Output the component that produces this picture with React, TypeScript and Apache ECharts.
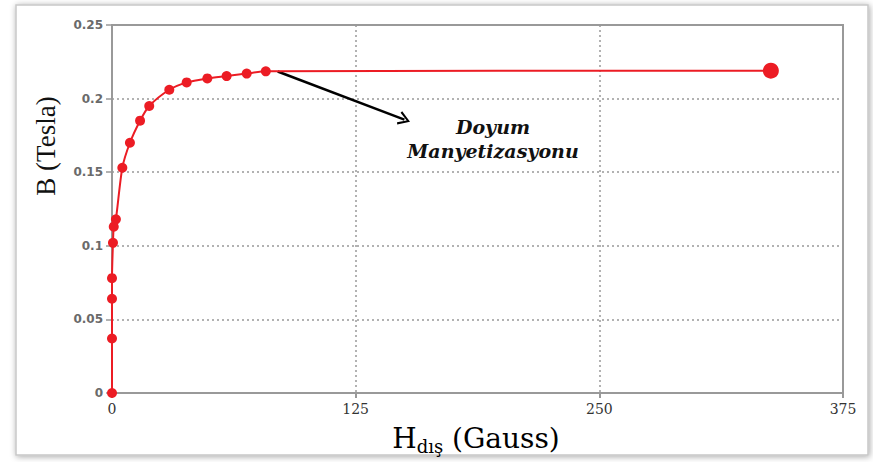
import React, { useEffect, useRef } from "react";
import * as echarts from "echarts";

const hValues = [0, 0, 0, 0, 0.5, 0.9, 2, 5.3, 9.2, 14.4, 19.1, 29.4, 38.3, 48.9, 58.8, 69.1, 78.9, 338];
const bValues = [0, 0.037, 0.064, 0.078, 0.102, 0.113, 0.118, 0.153, 0.17, 0.185, 0.195, 0.206, 0.211, 0.2137, 0.2153, 0.217, 0.2185, 0.219];
const xTicks = { min: 0, max: 375, interval: 125 };
const yTicks = { min: 0, max: 0.25, interval: 0.05 };
const arrowStart = [85, 0.2184];
const arrowEnd = [150, 0.1857];
const annotation = ["Doyum", "Manyetizasyonu"];

export default function App() {
  const ref = useRef<HTMLDivElement>(null);
  useEffect(() => {
    if (!ref.current) return;
    const chart = echarts.init(ref.current, null, { renderer: "svg" });
    const red = "#ec1c24";
    const data = hValues.map((h, i) => ({
      value: [h, bValues[i]],
      symbolSize: i === hValues.length - 1 ? 16 : 10,
    }));
    chart.setOption({
      animation: false,
      backgroundColor: "#ffffff",
      graphic: [
        {
          type: "rect",
          shape: { x: 16, y: 5, width: 852, height: 450 },
          style: {
            fill: "#ffffff",
            stroke: "#c8c8c8",
            lineWidth: 1.5,
            shadowBlur: 6,
            shadowColor: "rgba(0,0,0,0.35)",
            shadowOffsetX: 1,
            shadowOffsetY: 1,
          },
          z: -10,
          silent: true,
        },
        {
          type: "text",
          x: 46,
          y: 146,
          rotation: Math.PI / 2,
          style: {
            text: "B (Tesla)",
            font: "27px 'Liberation Serif'",
            fill: "#111",
            align: "center",
            verticalAlign: "middle",
          },
        },
        {
          type: "text",
          x: 476,
          y: 438,
          style: {
            text: "{h|H}{s|dış}{n| (Gauss)}",
            align: "center",
            verticalAlign: "middle",
            rich: {
              h: { fontFamily: "DejaVu Serif", fontSize: 28, color: "#111" },
              s: { fontFamily: "DejaVu Serif", fontSize: 18, color: "#111", padding: [16, 0, 0, 0] },
              n: { fontFamily: "DejaVu Serif", fontSize: 28, color: "#111" },
            },
          },
        },
        {
          type: "text",
          x: 493,
          y: 139,
          style: {
            text: annotation.join("\n"),
            font: "italic bold 19px 'DejaVu Serif'",
            fill: "#111",
            align: "center",
            verticalAlign: "middle",
            lineHeight: 24,
          },
        },
      ],
      grid: {
        left: 112,
        right: 30,
        top: 25,
        bottom: 69,
        show: true,
        borderColor: "#999",
        borderWidth: 2,
      },
      xAxis: {
        type: "value",
        min: xTicks.min,
        max: xTicks.max,
        interval: xTicks.interval,
        axisLine: { show: true, lineStyle: { color: "#999", width: 2 } },
        axisTick: { show: true, length: 5, lineStyle: { color: "#999", width: 2 } },
        axisLabel: {
          fontFamily: "DejaVu Serif",
          fontSize: 14,
          color: "#333",
          margin: 9,
        },
        splitLine: { show: true, lineStyle: { color: "#999", type: [2, 3], width: 1.5 } },
      },
      yAxis: {
        type: "value",
        min: yTicks.min,
        max: yTicks.max,
        interval: yTicks.interval,
        axisLine: { show: true, lineStyle: { color: "#999", width: 2 } },
        axisTick: { show: true, length: 6, lineStyle: { color: "#999", width: 1.5 } },
        axisLabel: {
          fontFamily: "DejaVu Sans",
          fontWeight: "bold",
          fontSize: 12,
          color: "#6a6a6a",
          margin: 9,
        },
        splitLine: { show: true, lineStyle: { color: "#999", type: [2, 3], width: 1.5 } },
      },
      series: [
        {
          type: "line",
          data,
          smooth: 0.25,
          symbol: "circle",
          lineStyle: { color: red, width: 2 },
          itemStyle: { color: red },
          z: 5,
          markLine: {
            silent: true,
            symbol: ["none", "path://M0,10 L5,0 L10,10 L8.6,10.9 L5,3.2 L1.4,10.9 Z"],
            symbolSize: [14, 12],
            symbolOffset: [0, 0],
            label: { show: false },
            lineStyle: { color: "#000", width: 2.5, type: "solid" },
            itemStyle: { color: "#000" },
            data: [[{ coord: arrowStart }, { coord: arrowEnd }]],
          },
        },
      ],
    });
    return () => chart.dispose();
  }, []);
  return (
    <div
      ref={ref}
      style={{ position: "fixed", left: 0, top: 0, width: 873, height: 462 }}
    />
  );
}
